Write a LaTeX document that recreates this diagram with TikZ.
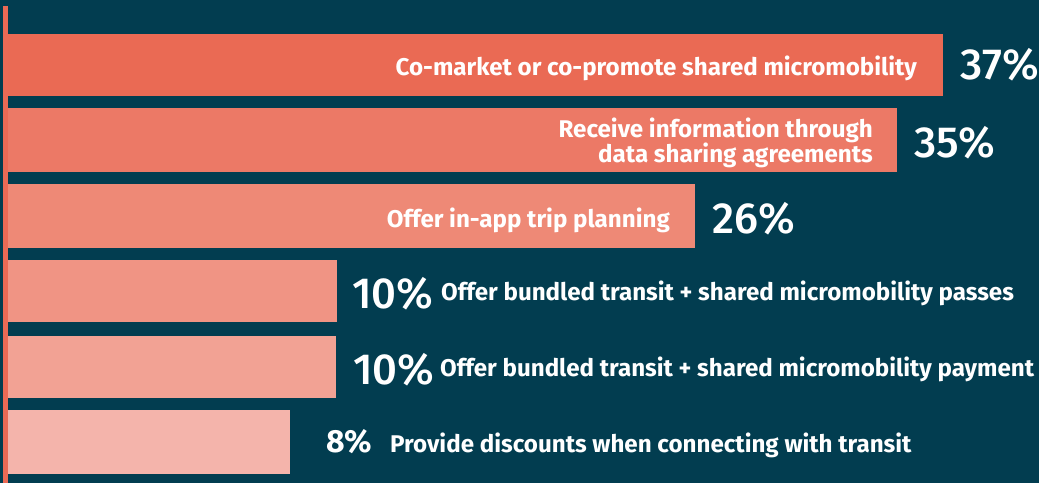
\documentclass[tikz,border=0pt]{standalone}
\usepackage{fontspec}
\setmainfont{Fira Sans}
\newfontfamily\pctfont{Fira Sans}[UprightFont=* Medium]
\definecolor{bgteal}{HTML}{023D50}
\definecolor{axisred}{HTML}{EB6A55}
\definecolor{barA}{HTML}{EA6A54}
\definecolor{barB}{HTML}{EC7966}
\definecolor{barC}{HTML}{EE8976}
\definecolor{barD}{HTML}{F09484}
\definecolor{barE}{HTML}{F2A294}
\definecolor{barF}{HTML}{F4B4AB}
\tikzset{
  lbl/.style={text=white, font=\bfseries\fontsize{24.15}{25}\selectfont, inner sep=0pt},
  pct/.style={text=white, font=\pctfont\fontsize{43.5}{44}\selectfont, inner sep=0pt},
}
\begin{document}
\begin{tikzpicture}[x=1pt,y=-1pt]
        \fill[bgteal] (0,0) rectangle (1039,483);
        \useasboundingbox (0,0) rectangle (1039,483);

        \fill[axisred] (3,6) rectangle (8,483);

        \fill[barA] (8,34) rectangle (943,96);
        \fill[barB] (8,108) rectangle (897,172);
        \fill[barC] (8,184) rectangle (695,248);
        \fill[barD] (8,260) rectangle (337,322);
        \fill[barE] (8,336) rectangle (336,398);
        \fill[barF] (8,410) rectangle (290,474);

        \node[lbl, anchor=base east] (lab1) at (917,75) {Co-market or co-promote shared micromobility};
        \node[lbl, anchor=base east] (lab2a) at (873,137) {Receive information through};
        \node[lbl, anchor=base east] (lab2b) at (873,162) {data sharing agreements};
        \node[lbl, anchor=base east] (lab3) at (670,227) {Offer in-app trip planning};
        \node[lbl, anchor=base west] (lab4) at (441,300) {Offer bundled transit + shared micromobility passes};
        \node[lbl, anchor=base west] (lab5) at (440,376) {Offer bundled transit + shared micromobility payment};
        \node[lbl, anchor=base west] (lab6) at (390,452) {Provide discounts when connecting with transit};

        \node[pct, anchor=base west] (pct1) at (960,79) {37\%};
        \node[pct, anchor=base west] (pct2) at (914,157) {35\%};
        \node[pct, anchor=base west] (pct3) at (712,233) {26\%};
        \node[pct, anchor=base west] (pct4) at (352,308) {10\%};
        \node[pct, anchor=base west] (pct5) at (353,384) {10\%};
        \node[pct, font=\bfseries\fontsize{32}{32}\selectfont, anchor=base west] (pct6) at (326,452) {8\%};
\end{tikzpicture}
\end{document}
